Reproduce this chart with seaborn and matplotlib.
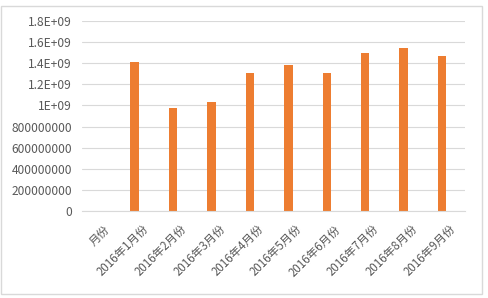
import matplotlib
matplotlib.use("Agg")
import matplotlib.pyplot as plt
import matplotlib.transforms as mtransforms
from matplotlib.patches import Rectangle
import seaborn as sns
import pandas as pd

categories = ["月份", "2016年1月份", "2016年2月份", "2016年3月份", "2016年4月份",
              "2016年5月份", "2016年6月份", "2016年7月份", "2016年8月份", "2016年9月份"]
values = [0, 1.412e9, 0.976e9, 1.033e9, 1.310e9, 1.383e9, 1.310e9, 1.497e9, 1.544e9, 1.468e9]
ytick_values = [0, 2e8, 4e8, 6e8, 8e8, 1e9, 1.2e9, 1.4e9, 1.6e9, 1.8e9]
ytick_labels = ["0", "200000000", "400000000", "600000000", "800000000",
                "1E+09", "1.2E+09", "1.4E+09", "1.6E+09", "1.8E+09"]

sns.set_style("white")
plt.rcParams["font.family"] = ["Noto Sans CJK SC", "DejaVu Sans"]

W, H = 488, 298
fig = plt.figure(figsize=(W / 100, H / 100), dpi=100)
ax = fig.add_axes([81.7 / W, (H - 211) / H, (465 - 81.7) / W, (211 - 21) / H])

df = pd.DataFrame({"cat": categories, "val": values})
sns.barplot(data=df, x="cat", y="val", order=categories, color="#ED7D31",
            saturation=1, width=0.22, ax=ax, linewidth=0)

ax.set_ylim(0, 1.8e9)
ax.set_xlim(-0.38, 9.6)
ax.set_yticks(ytick_values)
ax.set_yticklabels(ytick_labels)
ax.yaxis.grid(True, color="#D9D9D9", linewidth=0.8)
ax.set_axisbelow(True)
for s in ["top", "right", "left"]:
    ax.spines[s].set_visible(False)
ax.spines["bottom"].set_color("#D9D9D9")
ax.spines["bottom"].set_linewidth(0.8)
ax.set_xlabel("")
ax.set_ylabel("")
ax.tick_params(axis="y", length=0, colors="#595959", labelsize=8.6, pad=7)
ax.tick_params(axis="x", length=0, colors="#595959", labelsize=8.3, pad=4)

offset = mtransforms.ScaledTranslation(7 / 100, -6 / 100, fig.dpi_scale_trans)
for lab in ax.get_xticklabels():
    lab.set_rotation(45)
    lab.set_ha("right")
    lab.set_va("top")
    lab.set_rotation_mode("anchor")
    lab.set_transform(lab.get_transform() + offset)

fig.patches.append(Rectangle((1 / W, (H - 294) / H), (482 - 1) / W, (294 - 6) / H,
                             transform=fig.transFigure, fill=False,
                             edgecolor="#D9D9D9", linewidth=1))

fig.savefig("out.png", dpi=100, facecolor="white")
